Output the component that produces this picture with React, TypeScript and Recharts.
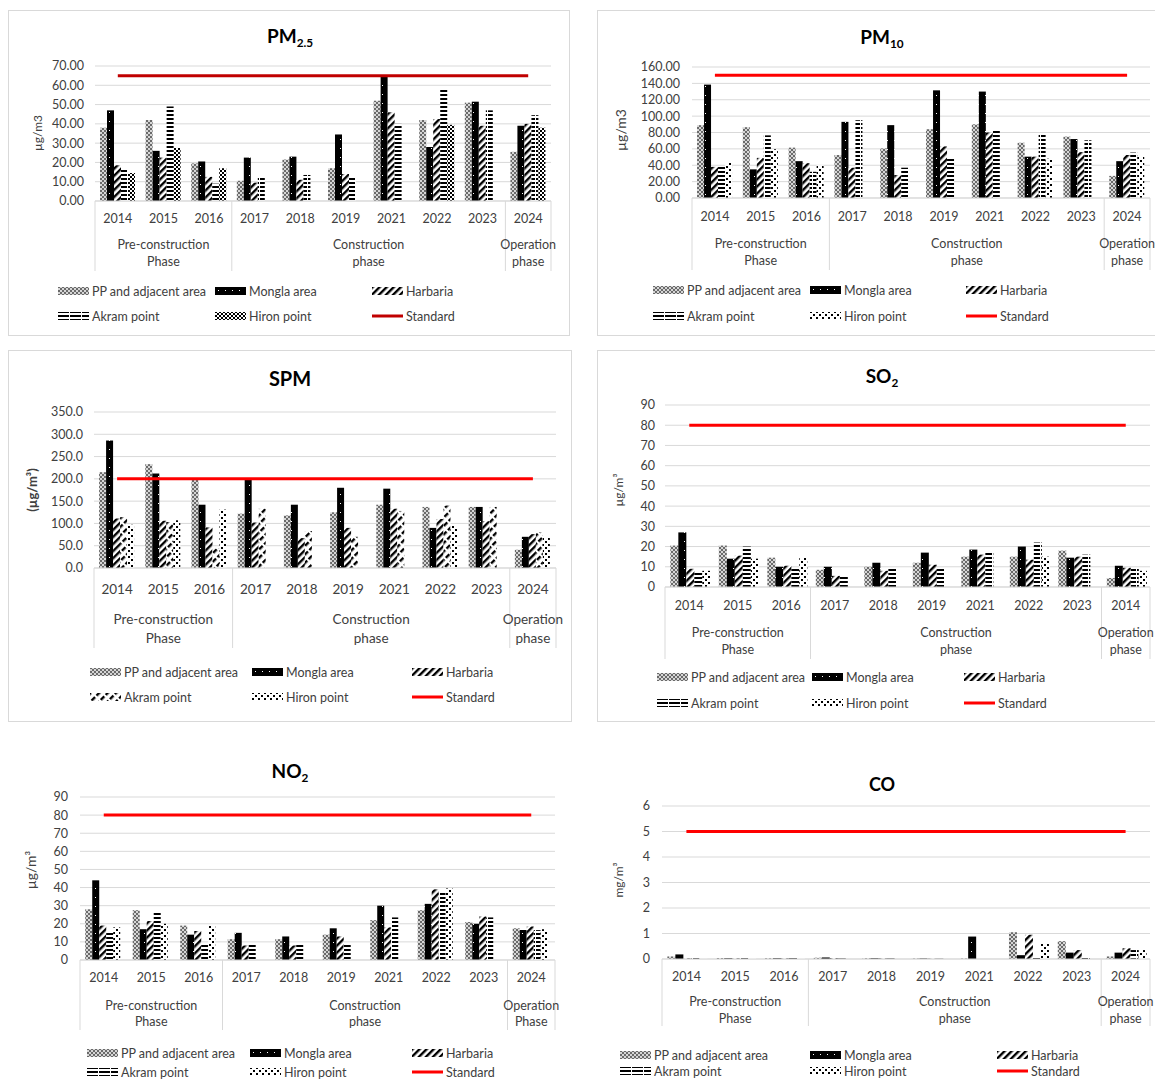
import React from 'react'
import { ComposedChart, Bar, Line, XAxis, YAxis, CartesianGrid } from 'recharts'

const FONT = "Lato, 'Open Sans', sans-serif"
const TEXT = '#404040'
const GRID = '#d9d9d9'

const YEARS = ['2014', '2015', '2016', '2017', '2018', '2019', '2021', '2022', '2023', '2024']
// the SO2 panel labels its last year "2014" in the source
const YEARS_SO2 = ['2014', '2015', '2016', '2017', '2018', '2019', '2021', '2022', '2023', '2014']
const SERIES = ['PP and adjacent area', 'Mongla area', 'Harbaria', 'Akram point', 'Hiron point']
const PHASES = [['Pre-construction', 'Phase'], ['Construction', 'phase'], ['Operation', 'phase']]
const PHASES_NO2 = [['Pre-construction', 'Phase'], ['Construction', 'phase'], ['Operation', 'Phase']]
const PHASE_SPANS = [[0, 3], [3, 9], [9, 10]]

// PM2.5 (µg/m3)
const PM25_PP = [38, 42, 19.5, 10.5, 21.5, 17, 52, 42, 51, 25.5]
const PM25_MONGLA = [47, 26, 20.5, 22.5, 23, 34.5, 65, 28, 51.5, 39]
const PM25_HARBARIA = [18.5, 22.5, 12.5, 9.5, 11, 14, 46, 42.5, 39, 40]
const PM25_AKRAM = [16.5, 49, 9, 12, 13.5, 12, 40, 58, 47, 44.5]
const PM25_HIRON = [14.5, 27.5, 17, null, null, null, null, 39.5, null, 38]
const PM25_STD = 65

// PM10 (µg/m3)
const PM10_PP = [89, 86.5, 61.5, 52.5, 60.5, 84, 90, 67.5, 75, 27]
const PM10_MONGLA = [138.5, 35, 45, 93, 89, 131.5, 130, 50.5, 72, 45]
const PM10_HARBARIA = [38, 49, 42.5, 37, 28, 63, 80, 50.5, 56, 52.5]
const PM10_AKRAM = [38, 76.5, 32, 95, 37, 49.5, 84, 78, 70.5, 55.5]
const PM10_HIRON = [43.5, 59.5, 40, null, null, null, null, 48, null, 51]
const PM10_STD = 150

// SPM (µg/m3)
const SPM_PP = [215, 233, 200, 122, 118, 125, 142, 137, 137, 41]
const SPM_MONGLA = [286, 212, 142, 198, 142, 180, 178, 90, 137, 70]
const SPM_HARBARIA = [111, 106, 91, 102, 67, 90, 133, 110, 105, 76]
const SPM_AKRAM = [114, 103, 44, 133, 83, 70, 128, 140, 137, 80]
const SPM_HIRON = [97, 107, 131, null, null, null, null, 95, null, 69]
const SPM_STD = 200

// SO2 (µg/m3)
const SO2_PP = [20.5, 20.5, 14.5, 8.5, 10, 12, 15, 15, 18, 4.5]
const SO2_MONGLA = [27, 14, 10, 10, 12, 17, 18.5, 20, 14.5, 10.5]
const SO2_HARBARIA = [9, 15.5, 10.5, 5.5, 8, 11, 16, 13.5, 15, 9.5]
const SO2_AKRAM = [7, 20, 9, 5, 9, 9, 17.5, 22, 16, 9]
const SO2_HIRON = [8, 14, 14.5, null, null, null, null, 15, null, 8]
const SO2_STD = 80

// NO2 (µg/m3)
const NO2_PP = [28, 27.5, 19, 11.5, 11.5, 14, 22, 27.5, 21, 17.5]
const NO2_MONGLA = [44, 17, 14, 15, 13, 17.5, 30, 31, 20, 16.5]
const NO2_HARBARIA = [19, 21.5, 16, 8, 8, 13, 18, 39, 24, 18.5]
const NO2_AKRAM = [16, 27, 9, 9, 9, 9, 23.5, 37.5, 23.5, 16.5]
const NO2_HIRON = [18, 20, 19, null, null, null, null, 39.5, null, 17]
const NO2_STD = 80

// CO (mg/m3)
const CO_PP = [0.1, 0.04, 0.03, 0.05, 0.03, 0.02, 0.02, 1.05, 0.7, 0.1]
const CO_MONGLA = [0.18, 0.03, 0.03, 0.06, 0.03, 0.02, 0.88, 0.15, 0.25, 0.25]
const CO_HARBARIA = [0.02, 0.02, 0.02, 0.03, 0.02, 0.01, null, 0.95, 0.35, 0.42]
const CO_AKRAM = [0.03, 0.03, 0.03, 0.02, 0.02, 0.01, null, 0.1, 0.05, 0.35]
const CO_HIRON = [0.02, 0.03, 0.03, null, null, null, null, 0.62, null, 0.35]
const CO_STD = 5

type Val = number | null

type Panel = {
  title: string
  sub: string
  titleX: number
  titleY: number
  titleSize: number
  yLabel: string
  yLabelX: number
  yLabelY: number
  yLabelSize: number
  yLabelBold?: boolean
  left: number
  width: number
  plotLeft: number
  plotRight: number
  plotTop: number
  plotBottom: number
  yMax: number
  yStep: number
  decimals: number
  yTickGap: number
  years: string[]
  phases: string[][]
  yearDy: number
  phaseDy: [number, number]
  sepLen: number
  fontSize: number
  stdColor: string
  fills: string[]
  values: Val[][]
  std: number
  legendCols: number[]
  legendRows: [number, number]
  border?: [number, number, number, number]
}

const FILLS = ['url(#pat-pp)', 'url(#pat-mongla)', 'url(#pat-diag)', 'url(#pat-horiz)', 'url(#pat-dots)']

const PANELS: Panel[] = [
  {
    title: 'PM', sub: '2.5', titleX: 290, titleY: 37, titleSize: 19,
    yLabel: 'µg/m3', yLabelX: 37, yLabelY: 133, yLabelSize: 12,
    left: 8, width: 562, plotLeft: 95, plotRight: 551, plotTop: 66, plotBottom: 201,
    yMax: 70, yStep: 10, decimals: 2, yTickGap: 11,
    years: YEARS, phases: PHASES, yearDy: 17, phaseDy: [43, 60], sepLen: 70, fontSize: 12.5,
    stdColor: '#c00000',
    fills: ['url(#pat-pp)', 'url(#pat-mongla)', 'url(#pat-diag)', 'url(#pat-horiz)', 'url(#pat-check)'],
    values: [PM25_PP, PM25_MONGLA, PM25_HARBARIA, PM25_AKRAM, PM25_HIRON], std: PM25_STD,
    legendCols: [58, 215, 372], legendRows: [291, 316],
    border: [8, 10, 562, 326],
  },
  {
    title: 'PM', sub: '10', titleX: 882, titleY: 38, titleSize: 19,
    yLabel: 'µg/m3', yLabelX: 620, yLabelY: 130, yLabelSize: 14,
    left: 597, width: 558, plotLeft: 692, plotRight: 1150, plotTop: 67, plotBottom: 198,
    yMax: 160, yStep: 20, decimals: 2, yTickGap: 12,
    years: YEARS, phases: PHASES, yearDy: 18, phaseDy: [45, 62], sepLen: 72, fontSize: 12.5,
    stdColor: '#ff0000', fills: FILLS,
    values: [PM10_PP, PM10_MONGLA, PM10_HARBARIA, PM10_AKRAM, PM10_HIRON], std: PM10_STD,
    legendCols: [653, 810, 966], legendRows: [290, 316],
    border: [597, 10, 570, 326],
  },
  {
    title: 'SPM', sub: '', titleX: 290, titleY: 378, titleSize: 20,
    yLabel: '(µg/m³)', yLabelX: 32, yLabelY: 490, yLabelSize: 13, yLabelBold: true,
    left: 8, width: 564, plotLeft: 94, plotRight: 556, plotTop: 412, plotBottom: 568,
    yMax: 350, yStep: 50, decimals: 1, yTickGap: 11,
    years: YEARS, phases: PHASES, yearDy: 21, phaseDy: [51, 70], sepLen: 80, fontSize: 13.5,
    stdColor: '#ff0000',
    fills: ['url(#pat-pp)', 'url(#pat-mongla)', 'url(#pat-diag)', 'url(#pat-diag2)', 'url(#pat-dots)'],
    values: [SPM_PP, SPM_MONGLA, SPM_HARBARIA, SPM_AKRAM, SPM_HIRON], std: SPM_STD,
    legendCols: [90, 252, 412], legendRows: [672, 697],
    border: [8, 350, 564, 372],
  },
  {
    title: 'SO', sub: '2', titleX: 882, titleY: 377, titleSize: 19,
    yLabel: 'µg/m³', yLabelX: 618, yLabelY: 490, yLabelSize: 12,
    left: 597, width: 558, plotLeft: 665, plotRight: 1150, plotTop: 405, plotBottom: 587,
    yMax: 90, yStep: 10, decimals: 0, yTickGap: 10,
    years: YEARS_SO2, phases: PHASES, yearDy: 18, phaseDy: [45, 62], sepLen: 72, fontSize: 12.5,
    stdColor: '#ff0000', fills: FILLS,
    values: [SO2_PP, SO2_MONGLA, SO2_HARBARIA, SO2_AKRAM, SO2_HIRON], std: SO2_STD,
    legendCols: [657, 812, 964], legendRows: [677, 703],
    border: [597, 350, 570, 372],
  },
  {
    title: 'NO', sub: '2', titleX: 290, titleY: 772, titleSize: 19,
    yLabel: 'µg/m³', yLabelX: 30, yLabelY: 870, yLabelSize: 14,
    left: 8, width: 560, plotLeft: 80, plotRight: 555, plotTop: 797, plotBottom: 960,
    yMax: 90, yStep: 10, decimals: 0, yTickGap: 12,
    years: YEARS, phases: PHASES_NO2, yearDy: 17, phaseDy: [45, 61], sepLen: 70, fontSize: 12.5,
    stdColor: '#ff0000', fills: FILLS,
    values: [NO2_PP, NO2_MONGLA, NO2_HARBARIA, NO2_AKRAM, NO2_HIRON], std: NO2_STD,
    legendCols: [87, 250, 412], legendRows: [1053, 1072],
  },
  {
    title: 'CO', sub: '', titleX: 882, titleY: 784, titleSize: 18,
    yLabel: 'mg/m³', yLabelX: 618, yLabelY: 880, yLabelSize: 12,
    left: 597, width: 558, plotLeft: 662, plotRight: 1150, plotTop: 806, plotBottom: 959,
    yMax: 6, yStep: 1, decimals: 0, yTickGap: 12,
    years: YEARS, phases: PHASES, yearDy: 17, phaseDy: [42, 59], sepLen: 67, fontSize: 12.5,
    stdColor: '#ff0000', fills: FILLS,
    values: [CO_PP, CO_MONGLA, CO_HARBARIA, CO_AKRAM, CO_HIRON], std: CO_STD,
    legendCols: [620, 810, 997], legendRows: [1055, 1071],
  },
]

const KEYS = ['pp', 'mongla', 'harbaria', 'akram', 'hiron']
const X_AXIS_H = 95
const TOP_PAD = 12

function Patterns() {
  return (
    <svg width={0} height={0} style={{ position: 'absolute' }}>
      <defs>
        <pattern id="pat-pp" width={4} height={4} patternUnits="userSpaceOnUse">
          <rect width={4} height={4} fill="#d6d6d6" />
          <rect x={0} y={0} width={2} height={2} fill="#6a6a6a" />
          <rect x={2} y={2} width={2} height={2} fill="#6a6a6a" />
        </pattern>
        <pattern id="pat-mongla" width={7} height={9} patternUnits="userSpaceOnUse">
          <rect width={7} height={9} fill="#000" />
          <rect x={3} y={4} width={1} height={1} fill="#fff" />
        </pattern>
        <pattern id="pat-diag" width={5} height={5} patternUnits="userSpaceOnUse" patternTransform="rotate(45)">
          <rect width={5} height={5} fill="#fff" />
          <rect width={2.4} height={5} fill="#000" />
        </pattern>
        <pattern id="pat-diag2" width={6} height={7} patternUnits="userSpaceOnUse" patternTransform="rotate(45)">
          <rect width={6} height={7} fill="#fff" />
          <rect width={2.4} height={5} fill="#000" />
        </pattern>
        <pattern id="pat-horiz" width={12} height={4} patternUnits="userSpaceOnUse">
          <rect width={12} height={4} fill="#fff" />
          <rect width={11} height={2} fill="#000" />
        </pattern>
        <pattern id="pat-check" width={4} height={4} patternUnits="userSpaceOnUse">
          <rect width={4} height={4} fill="#fff" />
          <rect x={0} y={0} width={2} height={2} fill="#000" />
          <rect x={2} y={2} width={2} height={2} fill="#000" />
        </pattern>
        <pattern id="pat-dots" width={6} height={6} patternUnits="userSpaceOnUse">
          <rect width={6} height={6} fill="#fff" />
          <rect x={0} y={0} width={2} height={2} fill="#000" />
          <rect x={3} y={3} width={2} height={2} fill="#000" />
        </pattern>
      </defs>
    </svg>
  )
}

function CategoryTick(props: any) {
  const { x, y, index, payload, panel } = props
  const p: Panel = panel
  const band = (p.plotRight - p.plotLeft) / p.years.length
  const left = x - band / 2 - index * band
  return (
    <g>
      <text
        x={x}
        y={y + p.yearDy}
        textAnchor="middle"
        dominantBaseline="central"
        fontSize={p.fontSize}
        fill={TEXT}
      >
        {payload.value}
      </text>
      {index === 0 && (
        <g>
          {[0, 3, 9, 10].map((s) => (
            <line key={s} x1={left + s * band} x2={left + s * band} y1={y} y2={y + p.sepLen} stroke={GRID} />
          ))}
          {PHASE_SPANS.map(([a, b], i) => (
            <text
              key={i}
              x={left + ((a + b) / 2) * band}
              textAnchor="middle"
              dominantBaseline="central"
              fontSize={p.fontSize}
              fill={TEXT}
            >
              <tspan x={left + ((a + b) / 2) * band} y={y + p.phaseDy[0]}>{p.phases[i][0]}</tspan>
              <tspan x={left + ((a + b) / 2) * band} y={y + p.phaseDy[1]}>{p.phases[i][1]}</tspan>
            </text>
          ))}
        </g>
      )}
    </g>
  )
}

function LegendBlock({ panel }: { panel: Panel }) {
  const items = [
    { label: SERIES[0], fill: panel.fills[0] },
    { label: SERIES[1], fill: panel.fills[1] },
    { label: SERIES[2], fill: panel.fills[2] },
    { label: SERIES[3], fill: panel.fills[3] },
    { label: SERIES[4], fill: panel.fills[4] },
    { label: 'Standard', fill: '' },
  ]
  return (
    <>
      {items.map((it, i) => {
        const col = panel.legendCols[i % 3]
        const row = panel.legendRows[Math.floor(i / 3)]
        return (
          <div
            key={i}
            style={{
              position: 'absolute',
              left: col,
              top: row - 9,
              height: 18,
              display: 'flex',
              alignItems: 'center',
              whiteSpace: 'nowrap',
              fontSize: 12.5,
              color: TEXT,
            }}
          >
            <svg width={31} height={10} style={{ marginRight: 3 }}>
              {it.fill ? (
                <rect x={0} y={1} width={31} height={8} fill={it.fill} />
              ) : (
                <line x1={0} x2={31} y1={5} y2={5} stroke={panel.stdColor} strokeWidth={3} />
              )}
            </svg>
            <span>{it.label}</span>
          </div>
        )
      })}
    </>
  )
}

function PanelChart({ panel }: { panel: Panel }) {
  const top = panel.plotTop - TOP_PAD
  const height = panel.plotBottom - top + X_AXIS_H
  const data = panel.years.map((year, i) => {
    const row: Record<string, any> = { year, std: panel.std }
    KEYS.forEach((k, s) => {
      row[k] = panel.values[s][i]
    })
    return row
  })
  const ticks: number[] = []
  for (let v = 0; v <= panel.yMax + 1e-9; v += panel.yStep) ticks.push(v)

  return (
    <>
      {panel.border && (
        <div
          style={{
            position: 'absolute',
            left: panel.border[0],
            top: panel.border[1],
            width: panel.border[2],
            height: panel.border[3],
            border: '1px solid #d9d9d9',
            boxSizing: 'border-box',
          }}
        />
      )}
      <div
        style={{
          position: 'absolute',
          left: panel.titleX,
          top: panel.titleY,
          transform: 'translate(-50%, -50%)',
          fontWeight: 'bold',
          fontSize: panel.titleSize,
          color: '#000',
          whiteSpace: 'nowrap',
        }}
      >
        {panel.title}
        {panel.sub && <sub style={{ fontSize: panel.titleSize * 0.62 }}>{panel.sub}</sub>}
      </div>
      <div
        style={{
          position: 'absolute',
          left: panel.yLabelX,
          top: panel.yLabelY,
          transform: 'translate(-50%, -50%) rotate(-90deg)',
          fontSize: panel.yLabelSize,
          fontWeight: panel.yLabelBold ? 'bold' : 'normal',
          color: TEXT,
          whiteSpace: 'nowrap',
        }}
      >
        {panel.yLabel}
      </div>
      <div style={{ position: 'absolute', left: panel.left, top }}>
        <ComposedChart
          width={panel.width}
          height={height}
          data={data}
          margin={{ top: TOP_PAD, right: panel.left + panel.width - panel.plotRight, left: 0, bottom: 0 }}
          barCategoryGap="11%"
          barGap={0}
        >
          <CartesianGrid vertical={false} stroke={GRID} />
          <XAxis
            dataKey="year"
            height={X_AXIS_H}
            interval={0}
            tickLine={false}
            tickSize={0}
            tickMargin={0}
            axisLine={{ stroke: GRID }}
            tick={(p: any) => <CategoryTick {...p} panel={panel} />}
          />
          <YAxis
            type="number"
            domain={[0, panel.yMax]}
            ticks={ticks}
            interval={0}
            width={panel.plotLeft - panel.left}
            axisLine={false}
            tickLine={false}
            tickSize={0}
            tickMargin={panel.yTickGap}
            tickFormatter={(v: number) => v.toFixed(panel.decimals)}
            tick={{ fontSize: 12.5, fill: TEXT }}
          />
          {KEYS.map((k, s) => (
            <Bar key={k} dataKey={k} name={SERIES[s]} fill={panel.fills[s]} isAnimationActive={false} />
          ))}
          <Line
            type="linear"
            dataKey="std"
            name="Standard"
            stroke={panel.stdColor}
            strokeWidth={3}
            dot={false}
            activeDot={false}
            isAnimationActive={false}
          />
        </ComposedChart>
      </div>
      <LegendBlock panel={panel} />
    </>
  )
}

export default function App() {
  return (
    <div
      style={{
        position: 'absolute',
        left: 0,
        top: 0,
        width: 1155,
        height: 1084,
        overflow: 'hidden',
        background: '#fff',
        fontFamily: FONT,
      }}
    >
      <Patterns />
      {PANELS.map((p, i) => (
        <PanelChart key={i} panel={p} />
      ))}
    </div>
  )
}
